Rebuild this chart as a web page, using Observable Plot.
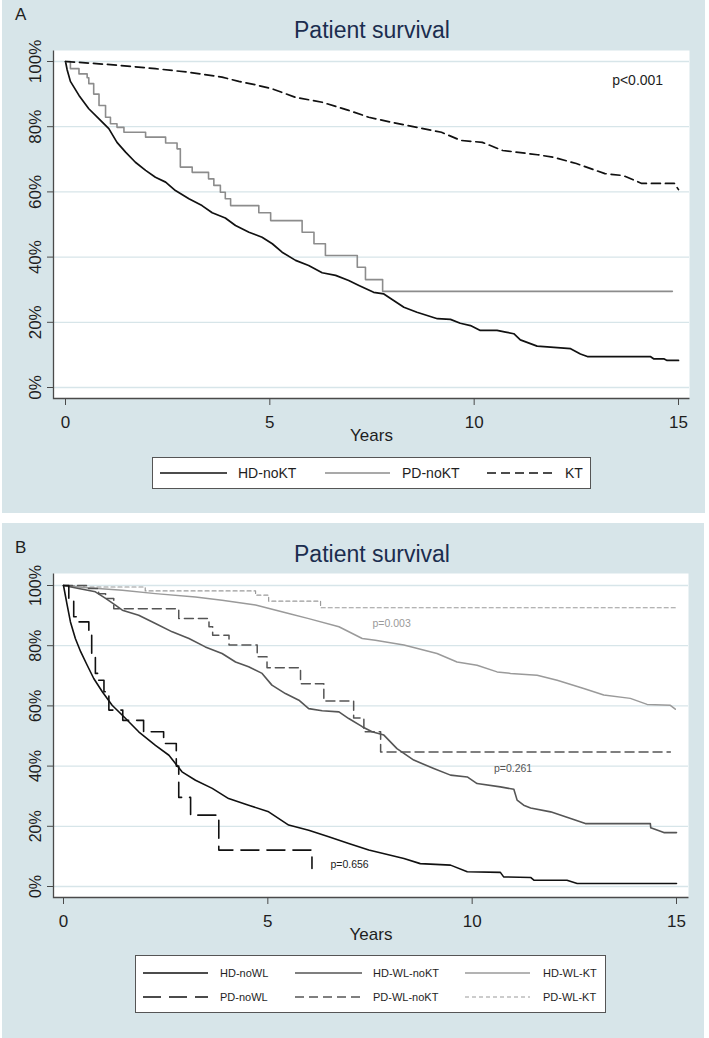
<!DOCTYPE html>
<html><head><meta charset="utf-8">
<script src="https://cdn.jsdelivr.net/npm/d3@7"></script>
<script src="https://cdn.jsdelivr.net/npm/@observablehq/plot@0.6"></script>
<style>
body{margin:0;background:#fff;}
#page{position:relative;width:709px;height:1038px;overflow:hidden;}
.bg{position:absolute;}
</style></head><body><div id="page"></div>
<script>
// ---------- data ----------
const yearTicks = [0, 5, 10, 15];
const pctTicks = [0, 20, 40, 60, 80, 100];
const titleText = "Patient survival";

// Panel A : [years, survival %]
const hdNoKT = [[0,100],[0.04,97.5],[0.12,93.9],[0.33,89.6],[0.57,85.5],[0.82,82.4],[1.06,79.4],[1.26,75.2],[1.47,72.2],[1.71,69.1],[1.96,66.6],[2.2,64.5],[2.45,63],[2.69,60.4],[3.02,57.9],[3.34,55.8],[3.59,53.6],[3.91,52],[4.16,49.7],[4.49,47.6],[4.81,46.1],[5.06,44.1],[5.3,41.5],[5.63,39],[5.95,37.4],[6.28,35.2],[6.61,34.4],[6.93,32.8],[7.18,31.3],[7.54,29.2],[7.79,28.7],[8.03,26.7],[8.28,24.6],[8.6,23.1],[9.1,21.1],[9.42,20.9],[9.66,19.7],[9.91,19],[10.15,17.5],[10.56,17.5],[10.77,17],[10.97,16.5],[11.13,14.6],[11.54,12.7],[11.87,12.4],[12.36,11.9],[12.6,10.3],[12.77,9.5],[14.31,9.5],[14.39,8.8],[14.64,8.8],[14.72,8.3],[15,8.3]];
const pdNoKT = [[0,100],[0.12,97.8],[0.33,96.2],[0.53,95],[0.57,93.2],[0.69,90],[0.82,86.5],[0.98,82.9],[1.1,80.9],[1.26,79.8],[1.43,78.3],[1.96,76.8],[2.45,75],[2.73,73.2],[2.81,67.6],[3.1,66],[3.5,64],[3.63,62],[3.79,59.9],[3.91,57.9],[4.04,55.8],[4.73,53.6],[5.02,51.2],[5.79,47.6],[6.08,44.1],[6.36,40.5],[7.14,36.9],[7.34,33.1],[7.76,29.5],[14.85,29.5]];
const kt = [[0,100],[0.82,99.3],[1.6,98.5],[2.2,97.8],[3.02,96.7],[3.83,95.2],[4.24,93.9],[4.6,93],[5.06,91.6],[5.63,89],[6.28,87.5],[6.93,85],[7.42,82.9],[8.0,81.3],[8.6,79.8],[9.2,78.3],[9.67,75.8],[10.2,75.2],[10.7,72.7],[11.55,71.4],[11.95,70.6],[12.5,68.7],[13.2,65.6],[13.65,65],[14.1,62.6],[14.9,62.6],[15,60.7]];
const legendA = ["HD-noKT", "PD-noKT", "KT"];
const pA_text = ["p<0.001"], pA_t = [14.0], pA_s = [94.2];

// Panel B
const hdNoWL = [[0,100],[0.09,93.5],[0.17,87.9],[0.29,82.4],[0.42,78],[0.58,73.5],[0.74,69.1],[0.95,64.7],[1.19,60.2],[1.52,55.8],[1.84,51.4],[2.25,46.9],[2.58,43.6],[2.9,38.1],[3.23,35.3],[3.64,32.6],[4.04,29.2],[4.53,27],[5.02,24.8],[5.51,20.4],[6.0,18.7],[6.49,16.5],[6.98,14.3],[7.47,12.1],[8.33,9.3],[8.73,7.6],[9.47,7.1],[9.88,4.9],[10.69,4.7],[10.77,3.2],[11.43,3.0],[11.51,2.1],[12.32,2.1],[12.57,1],[15,1]];
const hdWLnoKT = [[0,100],[0.37,99],[0.78,97.9],[1.03,95.7],[1.27,93.5],[1.44,91.8],[1.84,90.1],[2.25,87.4],[2.66,84.6],[3.07,82.4],[3.47,79.6],[3.88,77.4],[4.21,74.6],[4.53,73],[4.86,70.8],[5.1,66.9],[5.43,64.1],[5.76,61.9],[6.0,59.1],[6.33,58.4],[6.74,58],[6.98,55.8],[7.31,53.1],[7.55,51.4],[7.84,50.3],[8.16,45.8],[8.57,42],[9.06,39.2],[9.47,37],[9.88,36.4],[10.12,34.2],[10.69,33.1],[11.02,32.3],[11.1,28.7],[11.26,27],[11.43,26.1],[11.92,24.8],[12.41,22.6],[12.77,20.9],[14.36,20.9],[14.37,19.5],[14.69,17.9],[15,17.9]];
const hdWLKT = [[0,100],[0.5,99.3],[1.44,98.4],[2.25,97.3],[3.23,96.2],[3.88,95.1],[4.7,93.5],[5.51,90.7],[6.0,89],[6.74,86.3],[7.31,82.4],[7.63,81.8],[8.33,80.2],[9.14,77.4],[9.63,74.6],[10.12,73.5],[10.61,71.3],[10.94,70.8],[11.59,70.2],[12.08,68.5],[12.73,65.8],[13.22,63.6],[13.87,62.5],[14.28,60.5],[14.85,60.2],[14.97,58.9]];
const pdNoWL = [[0,100],[0.13,95],[0.25,89.6],[0.37,87.9],[0.62,84],[0.69,76.8],[0.78,70.8],[0.86,68.5],[0.99,64.7],[1.11,58.6],[1.45,55.2],[1.96,51.4],[2.45,47.5],[2.76,40],[2.82,29.6],[3.11,23.7],[3.8,12.1],[6.08,6]];
const pdWLnoKT = [[0,100],[0.6,99],[0.86,97.3],[1.03,95.7],[1.23,92.3],[2.82,89],[3.56,86.3],[3.65,83.5],[4.05,80.2],[4.74,76.3],[4.98,72.7],[5.8,67.4],[6.37,61.6],[7.1,56],[7.35,51.4],[7.76,44.7],[14.85,44.7]];
const pdWLKT = [[0,100],[0.5,99.5],[2.0,98.2],[4.7,96.8],[5.02,94.8],[6.29,92.6],[15,92.6]];
const legendB = ["HD-noWL", "HD-WL-noKT", "HD-WL-KT", "PD-noWL", "PD-WL-noKT", "PD-WL-KT"];
const pB_text = ["p=0.003", "p=0.261", "p=0.656"], pB_t = [8.03, 11.0, 7.0], pB_s = [87.4, 39.2, 7.3];

// ---------- styles ----------
const FONT = '"Liberation Sans", Arial, Helvetica, sans-serif';
const BG = "#d7e5e9", GRID = "#d7e5e9", AXIS = "#4a4a4a", TEXT = "#1e1e1e", TITLE = "#1b2d4f";
const W = 709;

const styleA = {
  "HD-noKT": {stroke: "#111", width: 1.7, dash: null, curve: "linear"},
  "PD-noKT": {stroke: "#8c8c8c", width: 1.6, dash: null, curve: "step-after"},
  "KT": {stroke: "#111", width: 1.7, dash: "9,5", curve: "linear"}
};
const styleB = {
  "HD-noWL": {stroke: "#111", width: 1.6, dash: null, curve: "linear"},
  "HD-WL-noKT": {stroke: "#555", width: 1.6, dash: null, curve: "linear"},
  "HD-WL-KT": {stroke: "#9a9a9a", width: 1.5, dash: null, curve: "linear"},
  "PD-noWL": {stroke: "#111", width: 1.6, dash: "18,8", curve: "step-after"},
  "PD-WL-noKT": {stroke: "#555", width: 1.5, dash: "9,5", curve: "step-after"},
  "PD-WL-KT": {stroke: "#9a9a9a", width: 1.2, dash: "4,3", curve: "step-after"}
};

const page = document.getElementById("page");
function bgDiv(l, t, w, h) {
  const d = document.createElement("div");
  d.className = "bg";
  Object.assign(d.style, {left: l + "px", top: t + "px", width: w + "px", height: h + "px", background: BG});
  page.appendChild(d);
}
bgDiv(2, 0, 703, 513);
bgDiv(2, 523, 702, 515);

function survLine(data, s) {
  return Plot.line(data, {x: d => d[0], y: d => d[1], stroke: s.stroke, strokeWidth: s.width,
    strokeDasharray: s.dash || undefined, curve: s.curve});
}

function makePlot(cfg) {
  const {top, height, fl, fr, ft, fb, il, ir, it, ib, ySize, marks} = cfg;
  const fw = fr - fl, fh = fb - ft;
  const svg = Plot.plot({
    width: W, height,
    marginLeft: fl, marginRight: W - fr, marginTop: ft, marginBottom: height - fb,
    x: {domain: [0, 15], insetLeft: il, insetRight: ir},
    y: {domain: [0, 100], insetTop: it, insetBottom: ib},
    style: {background: "transparent", fontFamily: FONT, overflow: "visible"},
    marks: [
      Plot.frame({fill: "white", stroke: "none"}),
      Plot.gridY(pctTicks, {stroke: GRID, strokeOpacity: 1, strokeWidth: 1.3}),
      Plot.frame({fill: "none", stroke: AXIS, strokeWidth: 1.3, strokeDasharray: `0 ${fw + fh} ${fw + fh}`}),
      Plot.axisX(yearTicks, {tickSize: 7, tickPadding: 10, fontSize: 17, stroke: AXIS, fill: TEXT, label: null}),
      Plot.axisY(pctTicks, {tickSize: 6, tickPadding: 7, tickRotate: -90, textAnchor: "middle", lineAnchor: "bottom",
        fontSize: ySize, stroke: AXIS, fill: TEXT, tickFormat: d => d + "%", label: null}),
      Plot.text(["Years"], {frameAnchor: "bottom", dy: 42, lineAnchor: "bottom", fontSize: 17, fill: TEXT}),
      ...marks
    ]
  });
  Object.assign(svg.style, {position: "absolute", left: "0px", top: top + "px"});
  page.appendChild(svg);
}

// Panel A
makePlot({top: 0, height: 513, fl: 53, fr: 689, ft: 50, fb: 398, il: 12, ir: 11, it: 11, ib: 11, ySize: 17,
  marks: [
    survLine(hdNoKT, styleA["HD-noKT"]),
    survLine(pdNoKT, styleA["PD-noKT"]),
    survLine(kt, styleA["KT"]),
    Plot.text(pA_text, {x: (d, i) => pA_t[i], y: (d, i) => pA_s[i], text: d => d, fontSize: 14, fill: TEXT})
  ]});

// Panel B
const pBcolors = ["#9a9a9a", "#555", "#222"];
makePlot({top: 523, height: 515, fl: 53, fr: 688, ft: 50, fb: 374, il: 10, ir: 12, it: 12, ib: 11, ySize: 16,
  marks: [
    survLine(hdWLKT, styleB["HD-WL-KT"]),
    survLine(pdWLKT, styleB["PD-WL-KT"]),
    survLine(hdWLnoKT, styleB["HD-WL-noKT"]),
    survLine(pdWLnoKT, styleB["PD-WL-noKT"]),
    survLine(hdNoWL, styleB["HD-noWL"]),
    survLine(pdNoWL, styleB["PD-noWL"]),
    ...pB_text.map((t, i) => Plot.text([t], {x: () => pB_t[i], y: () => pB_s[i], text: d => d, fontSize: 10.5, fill: pBcolors[i]}))
  ]});

// ---------- titles, panel letters, legends ----------
const ov = d3.select(page).append("svg").attr("width", W).attr("height", 1038)
  .style("position", "absolute").style("left", "0px").style("top", "0px")
  .style("font-family", FONT);

function titleAndLetter(letter, baseTitle, baseLetter) {
  ov.append("text").attr("x", 372).attr("y", baseTitle).attr("text-anchor", "middle")
    .attr("font-size", 23).attr("fill", TITLE).text(titleText);
  ov.append("text").attr("x", 15).attr("y", baseLetter).attr("font-size", 17).attr("fill", TEXT).text(letter);
}
titleAndLetter("A", 38, 20);
titleAndLetter("B", 562, 553);

function legendItem(x1, x2, lx, y, s, label, fs) {
  ov.append("line").attr("x1", x1).attr("x2", x2).attr("y1", y).attr("y2", y)
    .attr("stroke", s.stroke).attr("stroke-width", s.width)
    .attr("stroke-dasharray", s.dash || null);
  ov.append("text").attr("x", lx).attr("y", y + fs * 0.36).attr("font-size", fs).attr("fill", TEXT).text(label);
}

// Legend A
ov.append("rect").attr("x", 152.5).attr("y", 457.5).attr("width", 438).attr("height", 31)
  .attr("fill", "white").attr("stroke", "#555").attr("stroke-width", 1);
const colA = [[160, 227, 238], [325, 390, 402], [487, 553, 565]];
legendA.forEach((name, i) => legendItem(colA[i][0], colA[i][1], colA[i][2], 473, styleA[name], name, 14));

// Legend B
ov.append("rect").attr("x", 135.5).attr("y", 955.5).attr("width", 470).attr("height", 57)
  .attr("fill", "white").attr("stroke", "#555").attr("stroke-width", 1);
const colB = [[143, 208, 220], [295, 362, 373], [465, 530, 543]];
const rowB = [973, 997];
legendB.forEach((name, i) => {
  const c = colB[i % 3], r = rowB[Math.floor(i / 3)];
  legendItem(c[0], c[1], c[2], r, styleB[name], name, 11);
});
</script>
</body></html>
